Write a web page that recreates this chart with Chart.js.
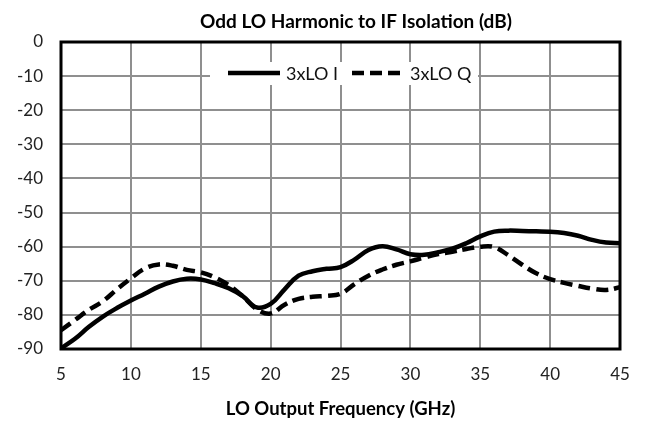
<!DOCTYPE html>
<html lang="en">
	<head>
		<meta charset="UTF-8" />
		<title>Odd LO Harmonic to IF Isolation</title>
		<script src="https://cdn.jsdelivr.net/npm/chart.js@4/dist/chart.umd.min.js"></script>
		<style>
			html, body { margin: 0; padding: 0; background: #fff; }
			canvas { display: block; }
		</style>
	</head>
	<body>
		<canvas id="isoChart" width="647" height="423"></canvas>

		<script>
			const FONT = "Lato, 'Noto Sans', sans-serif";

			// LO output frequency (GHz)
			const freqGHz = [5, 6, 7, 8, 9, 10, 11, 12, 13, 14, 15, 16, 17, 18, 19, 20, 21, 22, 23, 24, 25,
				26, 27, 28, 29, 30, 31, 32, 33, 34, 35, 36, 37, 38, 39, 40, 41, 42, 43, 44, 45];

			// 3xLO to IF isolation, I channel (dB)
			const isoI = [-89.8, -87, -83.5, -80.5, -78, -75.8, -73.8, -71.7, -70.2, -69.4, -69.6,
				-70.7, -72.2, -74.5, -77.8, -76.8, -72.5, -68.5, -67.2, -66.5, -66,
				-63.8, -61, -59.9, -60.8, -62.2, -62.4, -61.6, -60.6, -59, -57,
				-55.6, -55.3, -55.4, -55.5, -55.6, -56, -56.8, -58, -58.8, -59];

			// 3xLO to IF isolation, Q channel (dB)
			const isoQ = [-84.5, -81.5, -78.5, -76, -72.5, -69.3, -66.4, -65.2, -65.6, -66.8, -67.5,
				-69, -71.3, -74.5, -78.3, -79.6, -77, -75.3, -74.7, -74.4, -73.8,
				-71, -68.5, -66.7, -65.3, -64.3, -63.2, -62.2, -61.5, -60.7, -60,
				-60.1, -62.5, -65.3, -67.8, -69.5, -70.6, -71.5, -72.3, -72.7, -71.9];

			const seriesNames = ["3xLO I", "3xLO Q"];
			const chartTitle = "Odd LO Harmonic to IF Isolation (dB)";
			const xTitle = "LO Output Frequency (GHz)";

			const toPoints = (ys) => freqGHz.map((x, i) => ({ x, y: ys[i] }));

			// title drawn over the plot area, a bit right of centre like the original sheet
			const headerTitle = {
				id: "headerTitle",
				afterDraw(chart) {
					const c = chart.ctx;
					c.save();
					c.font = "bold 19px " + FONT;
					c.fillStyle = "#000";
					c.textAlign = "center";
					c.textBaseline = "middle";
					c.fillText(chartTitle, 356, 22);
					c.restore();
				},
			};

			// legend sits inside the plot, on a white box across the -10 gridline
			const innerLegend = {
				id: "innerLegend",
				afterDatasetsDraw(chart) {
					const c = chart.ctx;
					const yMid = 73;
					c.save();
					c.fillStyle = "#fff";
					c.fillRect(210, 62, 268, 23);
					c.font = "18px " + FONT;
					c.textBaseline = "middle";
					c.textAlign = "left";
					const starts = [228, 352];
					chart.data.datasets.forEach((ds, i) => {
						const x0 = starts[i];
						c.strokeStyle = ds.borderColor;
						c.lineWidth = ds.borderWidth;
						c.setLineDash(ds.borderDash || []);
						c.beginPath();
						c.moveTo(x0, yMid);
						c.lineTo(x0 + 52, yMid);
						c.stroke();
						c.setLineDash([]);
						c.fillStyle = "#111";
						c.fillText(ds.label, x0 + 58, yMid + 1);
					});
					c.restore();
				},
			};

			// heavy black frame round the plot
			const plotFrame = {
				id: "plotFrame",
				afterDraw(chart) {
					const { left, top, right, bottom } = chart.chartArea;
					const c = chart.ctx;
					c.save();
					c.strokeStyle = "#000";
					c.lineWidth = 3;
					c.strokeRect(left, top, right - left, bottom - top);
					c.restore();
				},
			};

			new Chart(document.getElementById("isoChart").getContext("2d"), {
				type: "line",
				data: {
					datasets: [
						{
							label: seriesNames[0],
							data: toPoints(isoI),
							borderColor: "#000",
							borderWidth: 4.5,
							pointRadius: 0,
							tension: 0.4,
							fill: false,
						},
						{
							label: seriesNames[1],
							data: toPoints(isoQ),
							borderColor: "#000",
							borderWidth: 4.5,
							borderDash: [12, 6],
							pointRadius: 0,
							tension: 0.4,
							fill: false,
						},
					],
				},
				options: {
					responsive: false,
					animation: false,
					layout: { padding: { top: 42, right: 27, left: 0, bottom: 0 } },
					plugins: {
						legend: { display: false },
						title: { display: false },
						tooltip: { enabled: false },
					},
					scales: {
						x: {
							type: "linear",
							min: 5,
							max: 45,
							afterFit: (s) => { s.height = 74; },
							ticks: { stepSize: 5, padding: 15, color: "#222", font: { family: FONT, size: 17 } },
							grid: { color: "#8f8f8f", lineWidth: 2, drawTicks: false },
							border: { display: false },
							title: {
								display: true,
								text: xTitle,
								color: "#000",
								font: { family: FONT, size: 18.5, weight: "bold" },
								padding: { top: 0, bottom: 3 },
							},
						},
						y: {
							min: -90,
							max: 0,
							afterFit: (s) => { s.width = 61; },
							ticks: { stepSize: 10, padding: 18, color: "#222", font: { family: FONT, size: 17 } },
							grid: { color: "#8f8f8f", lineWidth: 2, drawTicks: false },
							border: { display: false },
						},
					},
				},
				plugins: [headerTitle, innerLegend, plotFrame],
			});
		</script>
	</body>
</html>
